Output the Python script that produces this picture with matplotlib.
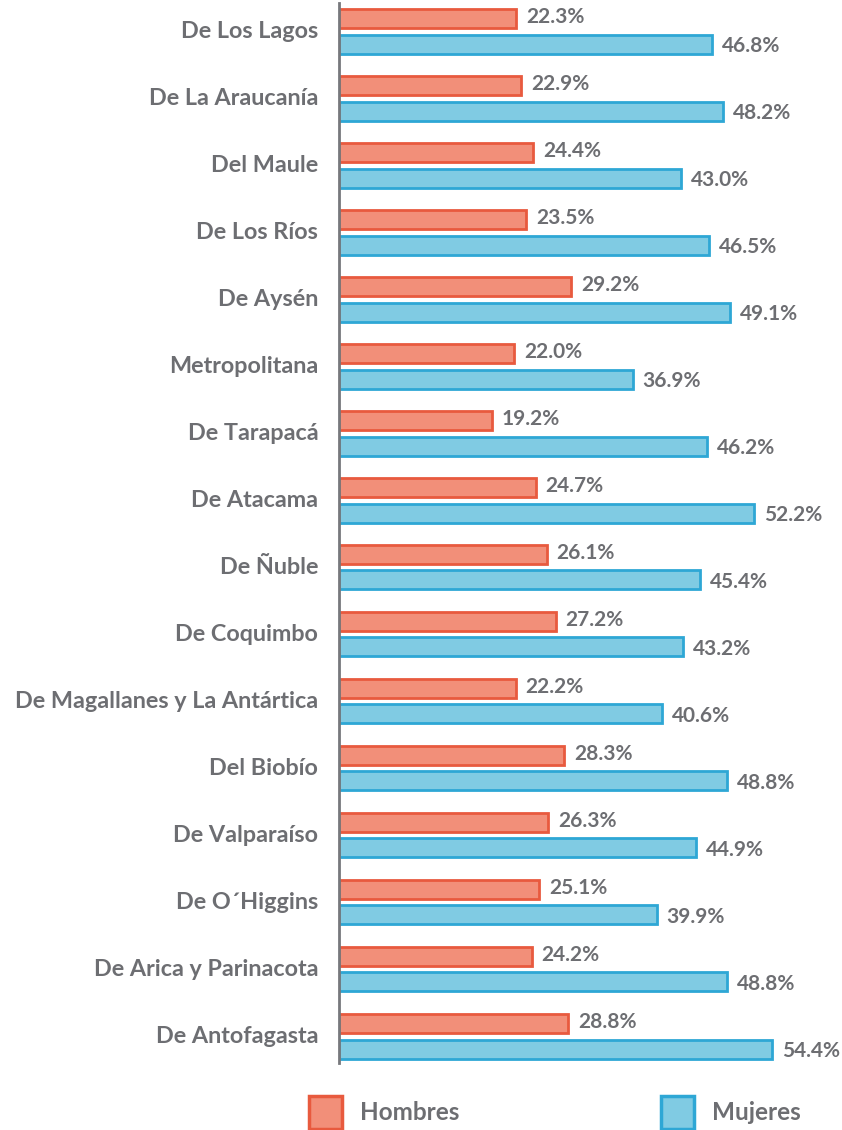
import matplotlib
matplotlib.use("Agg")
import matplotlib.pyplot as plt
from matplotlib.patches import Rectangle
import numpy as np

regions = ["De Los Lagos", "De La Araucanía", "Del Maule", "De Los Ríos", "De Aysén",
           "Metropolitana", "De Tarapacá", "De Atacama", "De Ñuble", "De Coquimbo",
           "De Magallanes y La Antártica", "Del Biobío", "De Valparaíso", "De O´Higgins",
           "De Arica y Parinacota", "De Antofagasta"]
hombres = [22.3, 22.9, 24.4, 23.5, 29.2, 22.0, 19.2, 24.7, 26.1, 27.2, 22.2, 28.3, 26.3, 25.1, 24.2, 28.8]
mujeres = [46.8, 48.2, 43.0, 46.5, 49.1, 36.9, 46.2, 52.2, 45.4, 43.2, 40.6, 48.8, 44.9, 39.9, 48.8, 54.4]
series_labels = ["Hombres", "Mujeres"]

FONT = "Lato"
GRAY = "#6d6e72"
RED_FILL, RED_EDGE = "#f28f79", "#e85a3e"
BLUE_FILL, BLUE_EDGE = "#80cbe3", "#2ea7d5"

W, H = 842, 1130
fig = plt.figure(figsize=(W / 100, H / 100), dpi=100)
ax_left, ax_right = 339 / W, 1.0
ax_top, ax_bot = 3, 1063
ax = fig.add_axes([ax_left, 1 - ax_bot / H, ax_right - ax_left, (ax_bot - ax_top) / H])

px_per_unit = 433 / 54.4
ax.set_xlim(0, (W - 339) / px_per_unit)
ax.set_ylim((ax_bot - 18.5) / 67, (ax_top - 18.5) / 67)

y = np.arange(len(regions))
off = 25.5 / 67
h = 19 / 67
ax.barh(y, hombres, height=h, color=RED_FILL, edgecolor=RED_EDGE, linewidth=2)
ax.barh(y + off, mujeres, height=h, color=BLUE_FILL, edgecolor=BLUE_EDGE, linewidth=2)

pad = 10 / px_per_unit
for yi, hv, mv in zip(y, hombres, mujeres):
    ax.text(hv + pad, yi - 0.02, f"{hv:.1f}%", va="center", ha="left", fontsize=15,
            fontweight="bold", color=GRAY, family=FONT)
    ax.text(mv + pad, yi + off + 0.03, f"{mv:.1f}%", va="center", ha="left", fontsize=15,
            fontweight="bold", color=GRAY, family=FONT)

ax.set_yticks(y + off / 2 - 0.02)
ax.set_yticklabels(regions, fontsize=16.8, fontweight="bold", color=GRAY, family=FONT)
ax.tick_params(axis="y", length=0, pad=15)
ax.set_xticks([])
for s in ["top", "right", "bottom"]:
    ax.spines[s].set_visible(False)
ax.spines["left"].set_color("#77787c")
ax.spines["left"].set_linewidth(2)

# legend
sq = 33
for (x0, fc, ec, lab) in [(309, RED_FILL, RED_EDGE, series_labels[0]),
                          (661, BLUE_FILL, BLUE_EDGE, series_labels[1])]:
    fig.patches.append(Rectangle((x0 / W, 1 - 1129 / H), sq / W, sq / H, transform=fig.transFigure,
                                 facecolor=fc, edgecolor=ec, linewidth=2.5))
    fig.text((x0 + 51) / W, 1 - 1113 / H, lab, fontsize=17.5, fontweight="bold", color=GRAY,
             family=FONT, va="center", ha="left")

fig.savefig("out.png", dpi=100, facecolor="white")
